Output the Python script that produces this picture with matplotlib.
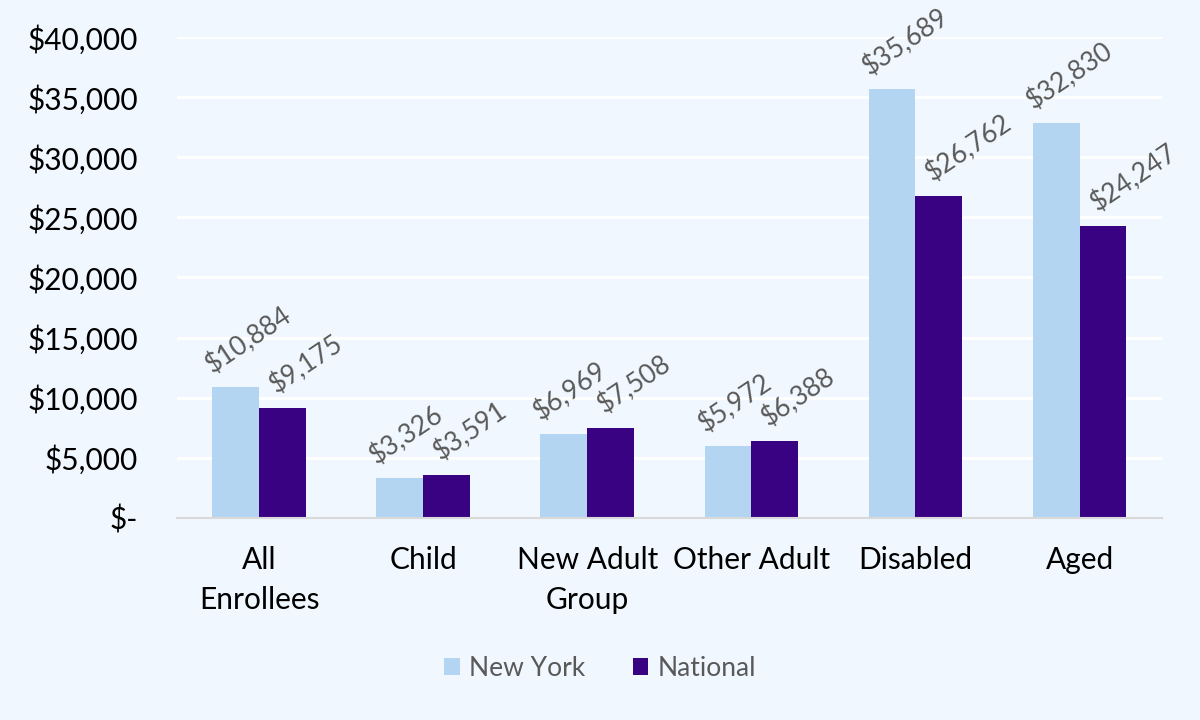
import matplotlib
matplotlib.use("Agg")
import matplotlib.pyplot as plt
import numpy as np
from matplotlib.ticker import FuncFormatter

categories = ["All\nEnrollees", "Child", "New Adult\nGroup", "Other Adult", "Disabled", "Aged"]
new_york = [10884, 3326, 6969, 5972, 35689, 32830]
national = [9175, 3591, 7508, 6388, 26762, 24247]
series_names = ["New York", "National"]

bg = "#F0F7FE"
c_ny = "#B3D5F1"
c_nat = "#390283"
label_col = "#595959"

plt.rcParams['font.family'] = ['Lato', 'DejaVu Sans']

fig = plt.figure(figsize=(12, 7.2), dpi=100, facecolor=bg)
ax = fig.add_axes([0.1475, 0.2806, 0.8205, 0.668], facecolor=bg)

x = np.arange(len(categories))
w = 0.285
b1 = ax.bar(x - w/2, new_york, w, color=c_ny, label=series_names[0], zorder=3)
b2 = ax.bar(x + w/2, national, w, color=c_nat, label=series_names[1], zorder=3)

for bars, vals, dx, dy in ((b1, new_york, -20, 9), (b2, national, -3, 10)):
    for rect, v in zip(bars, vals):
        ax.annotate(f"${v:,}", (rect.get_x() + rect.get_width()/2, v),
                    xytext=(dx, dy), textcoords='offset pixels',
                    rotation=34, rotation_mode='anchor', ha='left', va='bottom',
                    fontsize=19, color=label_col, zorder=4, annotation_clip=False)

ax.set_xlim(-0.5, len(categories) - 0.5)
ax.set_ylim(0, 40000)
ax.set_yticks(np.arange(0, 40001, 5000))
ax.yaxis.set_major_formatter(FuncFormatter(lambda v, p: "$-" if v == 0 else f"${int(v):,}"))
ax.grid(axis='y', color='white', linewidth=2, zorder=0)
ax.set_axisbelow(True)
for s in ['top', 'right', 'left']:
    ax.spines[s].set_visible(False)
ax.spines['bottom'].set_color('#D9D9D9')
ax.spines['bottom'].set_linewidth(1.5)
ax.spines['bottom'].set_zorder(5)
ax.tick_params(axis='y', length=0, pad=28, labelsize=21.5, labelcolor='black')
ax.tick_params(axis='x', length=0, pad=20, labelsize=21.5, labelcolor='black')
ax.set_xticks(x)
ax.set_xticklabels(categories, linespacing=1.55)

leg = fig.legend(loc='center', bbox_to_anchor=(0.5, 0.072), ncol=2, frameon=False,
                 fontsize=19, handlelength=0.6, handleheight=0.6, handletextpad=0.35,
                 columnspacing=1.8)
for t in leg.get_texts():
    t.set_color(label_col)

fig.savefig("out.png", dpi=100, facecolor=bg)
